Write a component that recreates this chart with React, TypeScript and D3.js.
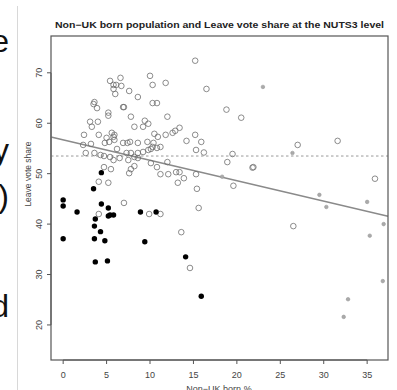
import { useEffect, useRef } from "react";
import * as d3 from "d3";

// Scottish / NI areas (filled black dots): [non-UK born %, leave share %]
const scotlandNI: [number, number][] = [
  [0, 44.8], [0, 43.6], [1.6, 42.4], [4.4, 44.0], [5.2, 43.2], [3.5, 47.0],
  [4.4, 50.2], [3.7, 41.0], [5.4, 41.8], [5.8, 41.8], [5.2, 41.6], [3.6, 39.6],
  [4.3, 38.5], [0, 37.1], [3.6, 37.1], [4.8, 36.7], [8.9, 42.4], [10.7, 42.4],
  [9.4, 36.5], [3.7, 32.5], [5.1, 32.7], [14.1, 33.5], [15.9, 25.7],
];

// London areas (small grey dots)
const londonAreas: [number, number][] = [
  [23.0, 67.2], [26.4, 54.1], [18.3, 49.4], [29.5, 45.8], [30.3, 43.4],
  [35.0, 44.4], [36.9, 40.0], [35.3, 37.7], [36.8, 28.7], [32.8, 25.1], [32.3, 21.6],
];

// Other English / Welsh areas (open circles)
const otherAreas: [number, number][] = [
  [15.2, 72.4], [6.6, 69.0], [5.4, 68.4], [5.8, 67.6], [6.1, 67.6], [6.7, 67.4],
  [5.8, 66.8], [6.0, 65.8], [7.6, 66.4], [8.6, 65.2], [10.0, 69.4], [10.3, 67.6],
  [11.8, 68.0], [16.5, 66.8], [3.6, 64.2], [3.5, 63.8], [3.9, 63.0], [6.9, 63.2],
  [7.0, 63.2], [5.2, 62.1], [5.2, 61.5], [7.8, 61.3], [10.3, 64.0], [10.8, 64.0],
  [12.0, 61.3], [18.8, 62.7], [20.5, 61.1], [3.1, 60.3], [4.0, 60.3], [3.3, 59.3],
  [8.2, 59.3], [9.4, 60.5], [9.8, 59.9], [9.2, 59.3], [2.4, 57.7], [4.1, 57.7],
  [5.6, 58.1], [5.9, 57.7], [10.5, 57.9], [11.8, 57.7], [12.6, 58.1], [12.9, 58.5],
  [13.4, 59.1], [15.2, 57.7], [5.0, 57.1], [5.8, 57.3], [5.9, 56.7], [5.3, 56.3],
  [4.8, 56.1], [2.3, 55.7], [3.2, 55.9], [6.9, 56.1], [7.4, 56.1], [7.7, 56.3],
  [8.6, 56.1], [9.7, 56.3], [10.4, 56.1], [10.9, 57.3], [14.2, 56.5], [15.9, 56.3],
  [27.0, 55.7], [31.6, 56.5], [2.6, 54.1], [3.6, 54.1], [4.3, 53.7], [4.7, 53.5],
  [5.4, 53.3], [6.2, 54.9], [7.3, 54.1], [7.8, 54.1], [8.6, 54.1], [9.2, 54.3],
  [9.8, 54.7], [10.1, 54.9], [10.8, 55.1], [10.3, 55.3], [11.2, 55.3], [15.3, 54.7],
  [16.2, 54.2], [19.5, 53.9], [5.8, 52.7], [6.5, 53.1], [7.5, 52.7], [8.2, 53.3],
  [8.6, 53.1], [10.1, 52.1], [12.0, 52.3], [10.8, 51.3], [18.9, 52.3], [21.8, 51.2],
  [21.9, 51.3], [4.7, 51.3], [5.5, 50.9], [7.8, 50.9], [8.2, 51.5], [7.6, 50.1],
  [11.2, 49.9], [12.1, 49.9], [13.0, 50.3], [13.4, 50.3], [15.3, 49.9], [13.9, 49.1],
  [13.2, 48.2], [19.6, 47.6], [15.4, 47.0], [35.9, 49.0], [4.1, 48.4], [5.2, 48.2],
  [7.0, 44.2], [15.6, 43.2], [4.1, 42.0], [9.9, 42.0], [11.2, 42.0], [13.6, 38.4],
  [26.5, 39.6], [14.6, 31.3],
];

const xTicks = [0, 5, 10, 15, 20, 25, 30, 35];
const yTicks = [20, 30, 40, 50, 60, 70];
const meanLeave = 53.5;
const fitIntercept = 56.7;
const fitSlope = -0.405;

export default function App() {
  const ref = useRef<SVGSVGElement>(null);

  useEffect(() => {
    const width = 397;
    const height = 390;
    const left = 51, right = 388, top = 36, bottom = 360;

    const svg = d3.select(ref.current);
    svg.selectAll("*").remove();
    svg.attr("width", width).attr("height", height)
      .style("font-family", "'Liberation Sans', Arial, sans-serif");

    const x = d3.scaleLinear([-1.4, 37.4], [left, right]);
    const y = d3.scaleLinear([13.05, 77.3], [bottom, top]);

    svg.append("rect").attr("width", width).attr("height", height).attr("fill", "white");

    // bits of the surrounding document
    svg.append("line")
      .attr("x1", 17.5).attr("x2", 17.5).attr("y1", 6).attr("y2", height)
      .attr("stroke", "#d8d8d8");
    svg.append("g")
      .selectAll("text")
      .data([["e", 52], ["y", 161], [")", 207], ["d", 317]] as [string, number][])
      .join("text")
      .attr("x", 9)
      .attr("y", d => d[1])
      .attr("text-anchor", "end")
      .attr("font-size", 32)
      .attr("fill", "#111")
      .text(d => d[0]);

    // title
    svg.append("text")
      .attr("x", 219.5).attr("y", 28)
      .attr("text-anchor", "middle")
      .attr("font-size", 9)
      .attr("font-weight", "bold")
      .attr("fill", "#222")
      .attr("textLength", 329)
      .attr("lengthAdjust", "spacingAndGlyphs")
      .text("Non\u2212UK born population and Leave vote share at the NUTS3 level");

    // axes, R style
    const ax = svg.append("g").attr("stroke", "#555").attr("fill", "none");
    ax.append("line").attr("x1", x(0)).attr("x2", x(35)).attr("y1", bottom).attr("y2", bottom);
    ax.selectAll(".xt").data(xTicks).join("line")
      .attr("x1", d => x(d)).attr("x2", d => x(d)).attr("y1", bottom).attr("y2", bottom + 4);
    ax.append("line").attr("y1", y(20)).attr("y2", y(70)).attr("x1", left).attr("x2", left);
    ax.selectAll(".yt").data(yTicks).join("line")
      .attr("y1", d => y(d)).attr("y2", d => y(d)).attr("x1", left).attr("x2", left - 4);

    svg.append("g").selectAll("text").data(xTicks).join("text")
      .attr("x", d => x(d)).attr("y", 378)
      .attr("text-anchor", "middle").attr("font-size", 9).attr("fill", "#444")
      .text(d => d);
    svg.append("g").selectAll("text").data(yTicks).join("text")
      .attr("transform", d => `translate(42,${y(d)}) rotate(-90)`)
      .attr("text-anchor", "middle").attr("font-size", 9).attr("fill", "#444")
      .text(d => d);

    svg.append("text")
      .attr("transform", "translate(31,174) rotate(-90)")
      .attr("text-anchor", "middle").attr("font-size", 8.5).attr("fill", "#444")
      .text("Leave vote share");
    svg.append("text")
      .attr("x", 219).attr("y", 392)
      .attr("text-anchor", "middle").attr("font-size", 9).attr("fill", "#444")
      .text("Non\u2212UK born %");

    // reference lines
    svg.append("line")
      .attr("x1", left).attr("x2", right)
      .attr("y1", y(meanLeave)).attr("y2", y(meanLeave))
      .attr("stroke", "#999").attr("stroke-dasharray", "2.5,2.5");
    svg.append("line")
      .attr("x1", left).attr("x2", right)
      .attr("y1", y(fitIntercept + fitSlope * x.invert(left)))
      .attr("y2", y(fitIntercept + fitSlope * x.invert(right)))
      .attr("stroke", "#8a8a8a").attr("stroke-width", 1.4);

    // points
    svg.append("g").selectAll("circle").data(otherAreas).join("circle")
      .attr("cx", d => x(d[0])).attr("cy", d => y(d[1])).attr("r", 2.8)
      .attr("fill", "none").attr("stroke", "#6e6e6e").attr("stroke-width", 0.8);
    svg.append("g").selectAll("circle").data(londonAreas).join("circle")
      .attr("cx", d => x(d[0])).attr("cy", d => y(d[1])).attr("r", 1.8)
      .attr("fill", "#aaa").attr("stroke", "#999").attr("stroke-width", 0.6);
    svg.append("g").selectAll("circle").data(scotlandNI).join("circle")
      .attr("cx", d => x(d[0])).attr("cy", d => y(d[1])).attr("r", 2.7)
      .attr("fill", "#000");

    // plot box
    svg.append("rect")
      .attr("x", left).attr("y", top).attr("width", right - left).attr("height", bottom - top)
      .attr("fill", "none").attr("stroke", "#555").attr("stroke-width", 1.2);
  }, []);

  return <svg ref={ref} style={{ position: "absolute", left: 0, top: 0, display: "block" }} />;
}
